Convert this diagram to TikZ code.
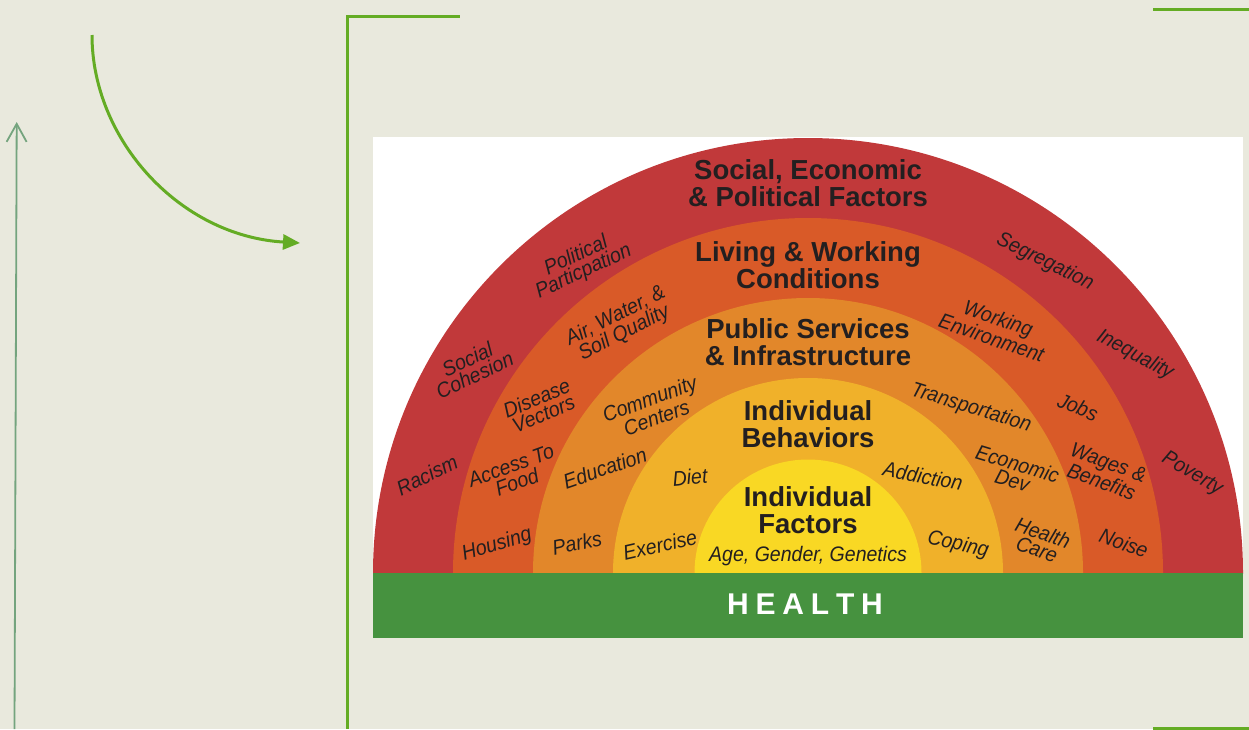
\documentclass[tikz,border=0pt]{standalone}
\usepackage{fontspec}
\setmainfont{Liberation Sans}
\newfontfamily\lblfont[FakeStretch=0.93]{Liberation Sans}
\usetikzlibrary{arrows.meta}
\definecolor{bg}{HTML}{E9E9DD}
\definecolor{lgreen}{HTML}{64AC24}
\definecolor{agray}{HTML}{74A47E}
\definecolor{hgreen}{HTML}{46923F}
\definecolor{ringA}{HTML}{C1393A}
\definecolor{ringB}{HTML}{D95A28}
\definecolor{ringC}{HTML}{E2872A}
\definecolor{ringD}{HTML}{F0B12A}
\definecolor{ringE}{HTML}{F9D824}
\definecolor{ink}{HTML}{231F20}
\tikzset{
  titletext/.style={font=\bfseries\fontsize{27.5}{27.5}\selectfont, align=center, inner sep=0pt, text=ink},
  lbl/.style={font=\lblfont\itshape\fontsize{21}{17.5}\selectfont, align=center, inner sep=0pt, text=ink},
  greenline/.style={draw=lgreen, line width=3pt},
  greenarrow/.style={draw=lgreen, line width=3pt, -{Triangle[length=17pt,width=15pt]}},
  thinarrow/.style={draw=agray, line width=1.8pt, -{Straight Barb[length=18pt,width=20pt]}},
}
\begin{document}
\begin{tikzpicture}[x=1pt,y=-1pt]
\useasboundingbox (0,0) rectangle (1249,729);
\fill[bg] (0,0) rectangle (1249,729);
% decorations
\coordinate (aS) at (14.5,729); \coordinate (aE) at (16.7,122);
\draw[thinarrow] (aS) -- (aE);
\coordinate (cS) at (92,35); \coordinate (cE) at (300,243);
\draw[greenarrow] (cS) .. controls (92,140) and (180,236) .. (cE);
\coordinate (bA) at (347,729); \coordinate (bB) at (347,16); \coordinate (bC) at (460,16);
\draw[greenline] (bA) -- (bB) -- (bC);
\coordinate (tA) at (1153,9); \coordinate (tB) at (1249,9);
\draw[greenline] (tA) -- (tB);
\coordinate (uA) at (1153,728); \coordinate (uB) at (1249,728);
\draw[greenline] (uA) -- (uB);
% picture
\fill[white] (373,137) rectangle (1243,638);
\begin{scope}
\clip (373,137) rectangle (1243,573);
\fill[ringA] (808,573) circle[radius=435];
\fill[ringB] (808,573) circle[radius=355];
\fill[ringC] (808,573) circle[radius=275];
\fill[ringD] (808,573) circle[radius=195];
\fill[ringE] (808,573) circle[radius=113.5];
\end{scope}
\fill[hgreen] (373,573) rectangle (1243,638);
\node[font=\bfseries\fontsize{30}{30}\selectfont, text=white, inner sep=0pt] (health) at (805,604.5)
  {H\kern6.8pt E\kern6.8pt A\kern6.8pt L\kern6.8pt T\kern6.8pt H};
% titles
\node[titletext] (t1) at (808,183) {Social, Economic\\\& Political Factors};
\node[titletext] (t2) at (808,265) {Living \& Working\\Conditions};
\node[titletext] (t3) at (808,342) {Public Services\\\& Infrastructure};
\node[titletext] (t4) at (808,424) {Individual\\Behaviors};
\node[titletext] (t5) at (808,510) {Individual\\Factors};
\node[lbl] (age) at (808,556) {Age, Gender, Genetics};
% outer ring
\node[lbl, rotate=25] (lPol) at (580,264) {Political\\Particpation};
\node[lbl, rotate=25] (lSoc) at (471,367) {Social\\Cohesion};
\node[lbl, rotate=26] (lRac) at (427,475) {Racism};
\node[lbl, rotate=-26] (lSeg) at (1045,262) {Segregation};
\node[lbl, rotate=-28] (lIneq) at (1135,355) {Inequality};
\node[lbl, rotate=-30] (lPov) at (1192,474) {Poverty};
% second ring
\node[lbl, rotate=27] (lAir) at (620,325) {Air, Water, \&\\Soil Quality};
\node[lbl, rotate=23] (lDis) at (540,406) {Disease\\Vectors};
\node[lbl, rotate=20] (lAcc) at (514,474) {Access To\\Food};
\node[lbl, rotate=17] (lHou) at (497,545) {Housing};
\node[lbl, rotate=-19] (lWork) at (995,328) {Working\\Environment};
\node[lbl, rotate=-22] (lJobs) at (1078,407) {Jobs};
\node[lbl, rotate=-20] (lWage) at (1105,472) {Wages \&\\Benefits};
\node[lbl, rotate=-20] (lNoise) at (1124,543) {Noise};
% third ring
\node[lbl, rotate=20] (lComm) at (653,408) {Community\\Centers};
\node[lbl, rotate=19] (lEdu) at (605,468) {Education};
\node[lbl, rotate=12] (lParks) at (577,543) {Parks};
\node[lbl, rotate=-17] (lTrans) at (971,408) {Transportation};
\node[lbl, rotate=-17] (lEcon) at (1015,472) {Economic\\Dev};
\node[lbl, rotate=-20] (lHC) at (1040,541) {Health\\Care};
% fourth ring
\node[lbl, rotate=5] (lDiet) at (690,477) {Diet};
\node[lbl, rotate=13] (lEx) at (660,545) {Exercise};
\node[lbl, rotate=-11] (lAdd) at (923,476) {Addiction};
\node[lbl, rotate=-13] (lCop) at (958,545) {Coping};
\end{tikzpicture}
\end{document}
